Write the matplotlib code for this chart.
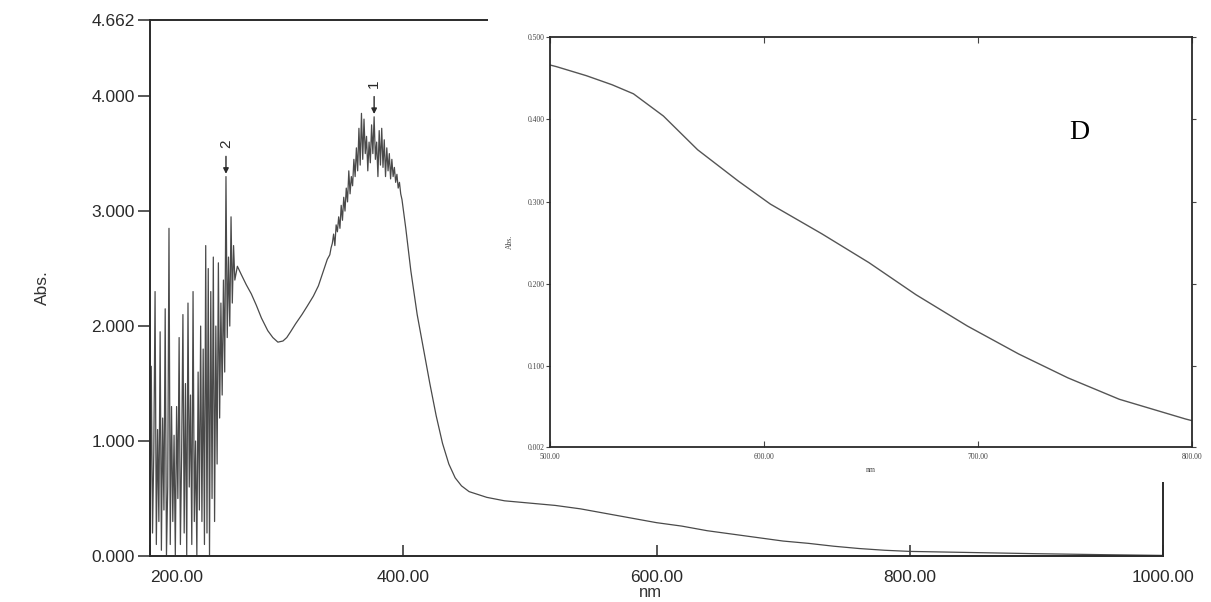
import matplotlib
matplotlib.use("Agg")
import matplotlib.pyplot as plt
from matplotlib.patches import Rectangle

plt.rcParams['font.family'] = ['Liberation Sans', 'DejaVu Sans']

# ---------------- main spectrum (200-1000 nm) ----------------
noise_nm = list(range(200, 268))
noise_abs = [0.0, 1.65, 0.2, 0.9, 2.3, 0.1, 1.1, 0.3, 1.95, 0.05,
             1.2, 0.4, 2.15, 0.0, 0.6, 2.85, 0.1, 1.3, 0.3, 1.05,
             0.0, 1.3, 0.5, 1.9, 0.1, 0.9, 2.1, 0.2, 1.5, 0.0,
             2.2, 0.6, 1.4, 0.1, 2.3, 0.3, 1.0, 0.0, 1.6, 0.4,
             2.0, 0.3, 1.8, 0.1, 2.7, 0.2, 2.5, 0.0, 2.3, 0.5,
             2.6, 0.3, 2.0, 0.8, 2.55, 1.2, 2.2, 1.4, 2.4, 1.6,
             3.3, 1.9, 2.6, 2.0, 2.95, 2.2, 2.7, 2.4]
smooth_nm = [269, 272, 276, 280, 284, 288, 293, 297, 301, 305,
             308, 311, 315, 320, 324, 329, 333, 337, 340]
smooth_abs = [2.52, 2.45, 2.36, 2.28, 2.18, 2.07, 1.96, 1.90, 1.86, 1.87,
              1.90, 1.95, 2.02, 2.10, 2.17, 2.26, 2.35, 2.48, 2.58]
peak_nm = list(range(342, 400))
peak_abs = [2.62, 2.68, 2.72, 2.80, 2.70, 2.88, 2.82, 2.95, 2.85, 3.05,
            2.92, 3.12, 3.00, 3.20, 3.08, 3.35, 3.15, 3.30, 3.22, 3.45,
            3.30, 3.55, 3.35, 3.72, 3.40, 3.85, 3.45, 3.80, 3.50, 3.65,
            3.35, 3.60, 3.42, 3.75, 3.50, 3.82, 3.45, 3.60, 3.30, 3.70,
            3.40, 3.72, 3.38, 3.62, 3.30, 3.55, 3.35, 3.50, 3.28, 3.45,
            3.30, 3.38, 3.25, 3.32, 3.20, 3.25, 3.15, 3.10]
tail_nm = [402, 406, 411, 416, 421, 426, 431, 436, 441, 446,
           452, 466, 480, 500, 520, 540, 560, 580, 600, 620,
           640, 660, 680, 700, 720, 740, 760, 780, 800, 850,
           900, 950, 1000]
tail_abs = [2.85, 2.48, 2.10, 1.80, 1.50, 1.22, 0.98, 0.80, 0.68, 0.61,
            0.56, 0.51, 0.48, 0.46, 0.44, 0.41, 0.37, 0.33, 0.29, 0.26,
            0.22, 0.19, 0.16, 0.13, 0.11, 0.085, 0.065, 0.05, 0.04, 0.03,
            0.02, 0.012, 0.005]

main_nm = noise_nm + smooth_nm + peak_nm + tail_nm
main_abs = noise_abs + smooth_abs + peak_abs + tail_abs

main_yticks = [0.0, 1.0, 2.0, 3.0, 4.0, 4.662]
main_ylabels = ["0.000", "1.000", "2.000", "3.000", "4.000", "4.662"]
main_xticks = [200, 400, 600, 800, 1000]
main_xlabels = ["200.00", "400.00", "600.00", "800.00", "1000.00"]

peak_marks_nm = [377, 260]
peak_marks_abs = [3.82, 3.30]
peak_marks_txt = ["1", "2"]

# ---------------- inset (500-800 nm) ----------------
inset_nm = [500, 503, 517, 529, 539, 553, 569, 588, 603, 627,
            649, 671, 695, 719, 742, 766, 797, 800]
inset_abs = [0.466, 0.464, 0.453, 0.442, 0.431, 0.404, 0.363, 0.325, 0.297, 0.261,
             0.226, 0.187, 0.149, 0.115, 0.086, 0.060, 0.036, 0.034]
inset_yticks = [0.002, 0.1, 0.2, 0.3, 0.4, 0.5]
inset_ylabels = ["0.002", "0.100", "0.200", "0.300", "0.400", "0.500"]
inset_xticks = [500, 600, 700, 800]
inset_xlabels = ["500.00", "600.00", "700.00", "800.00"]

W, H = 1211, 602
fig = plt.figure(figsize=(W / 100, H / 100), dpi=100)
fig.patch.set_facecolor('white')

def box(l, t, r, b):
    return [l / W, 1 - b / H, (r - l) / W, (b - t) / H]

ink = '#2a2a2a'
line_c = '#4a4a4a'

ax = fig.add_axes(box(150, 20, 1163, 556))
ax.set_zorder(0)
ax.plot(main_nm, main_abs, color=line_c, lw=0.9)
ax.set_xlim(200, 1000)
ax.set_ylim(0, 4.662)
ax.set_yticks(main_yticks)
ax.set_yticklabels(main_ylabels)
ax.set_xticks(main_xticks)
ax.set_xticklabels(main_xlabels)
ax.tick_params(axis='y', direction='out', length=9, width=1.1, pad=2,
               labelsize=12.5, colors=ink)
ax.tick_params(axis='x', direction='in', length=8, width=1.1, pad=10,
               labelsize=12.5, colors=ink)
lbls = ax.get_xticklabels()
lbls[0].set_ha('left')
for s in ax.spines.values():
    s.set_color(ink)
    s.set_linewidth(1.4)
ax.set_ylabel("Abs.", fontsize=12.5, color='#333333', labelpad=30)

for xm, ym, tx in zip(peak_marks_nm, peak_marks_abs, peak_marks_txt):
    ax.annotate('', xy=(xm, ym), xytext=(xm, ym + 0.2),
                arrowprops=dict(arrowstyle='-|>', color=ink, lw=1.0,
                                mutation_scale=8))
    ax.text(xm, ym + 0.25, tx, rotation=90, ha='center', va='bottom',
            fontsize=11, color=ink)

fig.text(650 / W, 1 - 600 / H, "nm", ha='center', va='bottom', fontsize=12,
         color='#333333')

# white pasted panel covering the upper right of the main frame
fig.add_artist(Rectangle(((488) / W, 1 - 482 / H), (W - 488) / W, 482 / H,
                         transform=fig.transFigure, facecolor='white',
                         edgecolor='none', zorder=1))

ins = fig.add_axes(box(550, 37, 1192, 447))
ins.set_zorder(2)
ins.plot(inset_nm, inset_abs, color='#555555', lw=1.0)
ins.set_xlim(500, 800)
ins.set_ylim(0.002, 0.5)
ins.set_yticks(inset_yticks)
ins.set_yticklabels(inset_ylabels)
ins.set_xticks(inset_xticks)
ins.set_xticklabels(inset_xlabels)
for t in ins.get_xticklabels() + ins.get_yticklabels():
    t.set_family(['Liberation Serif', 'DejaVu Serif'])
ins.tick_params(axis='y', direction='out', length=3, width=0.8, pad=1,
                labelsize=5.5, colors='#444444', right=True)
ins.tick_params(axis='x', direction='in', length=4, width=0.8, pad=4,
                labelsize=5.5, colors='#444444', top=True)
for s in ins.spines.values():
    s.set_color(ink)
    s.set_linewidth(1.3)
ins.set_xlabel("nm", fontsize=5.5, family=['Liberation Serif'], color='#444444',
               labelpad=4)
ins.set_ylabel("Abs.", fontsize=5.5, family=['Liberation Serif'], color='#444444',
               labelpad=10)

# "D" label box
fig.add_artist(Rectangle((1052 / W, 1 - 185 / H), 90 / W, 85 / H,
                         transform=fig.transFigure, facecolor='white',
                         edgecolor='none', zorder=3))
fig.text(1079 / W, 1 - 133 / H, "D", ha='center', va='center', fontsize=20,
         family=['Liberation Serif'], color='black', zorder=4)

fig.savefig("out.png", dpi=100, facecolor='white')
